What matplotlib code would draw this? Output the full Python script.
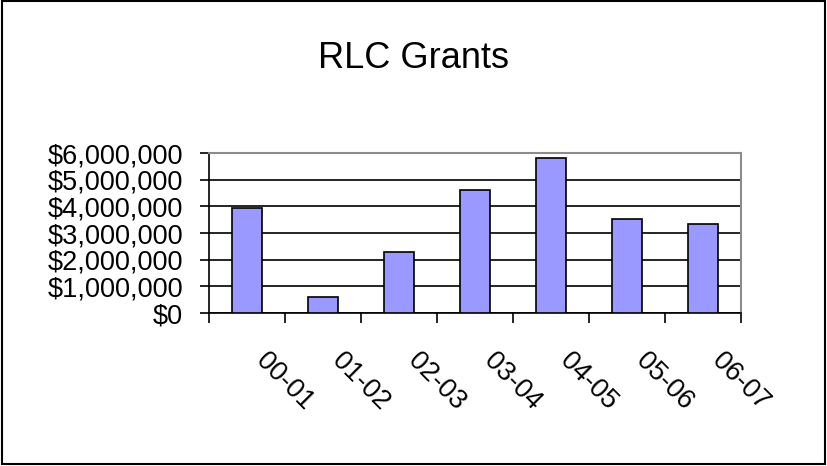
import numpy as np
import matplotlib
matplotlib.use('Agg')
import matplotlib.pyplot as plt
import matplotlib.transforms as mtransforms
from matplotlib.patches import Rectangle
from matplotlib.ticker import FuncFormatter, FixedLocator

plt.rcParams['font.family'] = ['Liberation Sans', 'DejaVu Sans']

# data
years = ['00-01', '01-02', '02-03', '03-04', '04-05', '05-06', '06-07']
grants = [3950000, 610000, 2300000, 4600000, 5800000, 3510000, 3330000]
yticks = [0, 1000000, 2000000, 3000000, 4000000, 5000000, 6000000]

fig = plt.figure(figsize=(8.27, 4.66), dpi=100)
ax = fig.add_axes([0.2527, 0.3283, 0.6433, 0.3433])

x = np.arange(len(years))
ax.bar(x, grants, width=0.4, color='#9999ff', edgecolor='black', linewidth=1.2, zorder=3)

ax.set_xlim(-0.5, len(years) - 0.5)
ax.set_ylim(0, 6000000)

# gridlines
ax.set_yticks(yticks)
ax.yaxis.set_major_formatter(FuncFormatter(lambda v, p: f'${v:,.0f}'))
ax.grid(axis='y', color='black', linewidth=1.2, zorder=1)
ax.set_axisbelow(True)

# spines: axes black, plot area border grey
ax.spines['left'].set_color('black')
ax.spines['bottom'].set_color('black')
ax.spines['top'].set_color('#8c8c8c')
ax.spines['right'].set_color('#8c8c8c')
for s in ax.spines.values():
    s.set_linewidth(1.2)
ax.spines['top'].set_linewidth(1.5)
ax.spines['right'].set_linewidth(1.5)

ax.tick_params(axis='y', direction='out', length=6.5, width=1.2, pad=12, labelsize=19.5)

# x: tick marks on category boundaries, labels at centres
ax.set_xticks(x)
ax.set_xticklabels(years)
ax.xaxis.set_minor_locator(FixedLocator(np.arange(len(years) + 1) - 0.5))
ax.tick_params(axis='x', which='major', length=0, pad=25, labelsize=19.5)
ax.tick_params(axis='x', which='minor', direction='out', length=7.2, width=1.2)
offset = mtransforms.ScaledTranslation(0.22, 0, fig.dpi_scale_trans)
for lab in ax.get_xticklabels():
    lab.set_rotation(-45)
    lab.set_rotation_mode('anchor')
    lab.set_ha('left')
    lab.set_va('top')
    lab.set_transform(lab.get_transform() + offset)

fig.text(0.5, 0.8755, 'RLC Grants', ha='center', va='center', fontsize=26)

# outer chart frame
fig.patches.append(Rectangle((0.002, 0.004), 0.995, 0.993, transform=fig.transFigure,
                             fill=False, edgecolor='black', linewidth=1.5))

fig.savefig('out.png', dpi=100)
